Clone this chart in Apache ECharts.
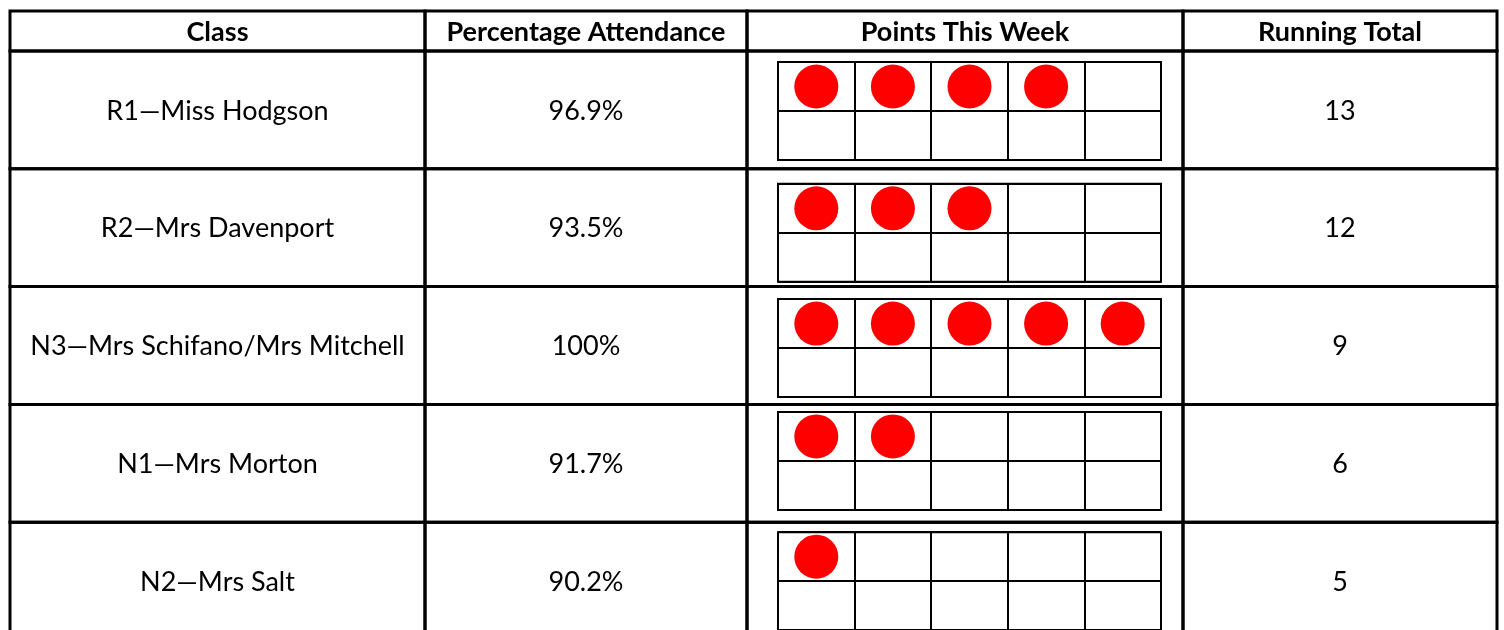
<!DOCTYPE html>
<html>
<head>
<meta charset="utf-8">
<script src="https://cdn.jsdelivr.net/npm/echarts@6/dist/echarts.min.js"></script>
<style>
  html, body { margin: 0; padding: 0; background: #ffffff; }
  #chart { width: 1504px; height: 630px; }
</style>
</head>
<body>
<div id="chart"></div>
<script>
// ---- data ----
var headers = ['Class', 'Percentage Attendance', 'Points This Week', 'Running Total'];
var classes = ['R1\u2014Miss Hodgson', 'R2\u2014Mrs Davenport', 'N3\u2014Mrs Schifano/Mrs Mitchell', 'N1\u2014Mrs Morton', 'N2\u2014Mrs Salt'];
var attendance = ['96.9%', '93.5%', '100%', '91.7%', '90.2%'];
var pointsThisWeek = [4, 3, 5, 2, 1];
var runningTotal = [13, 12, 9, 6, 5];

// ---- layout (styling only) ----
var FONT = 'Lato';
var FS = 27;
var colWidths = [415, 322, 436, 314];
var headerH = 40;
var rowH = 117.8;
var tableLeft = 10, tableTop = 11;
var totalW = colWidths.reduce(function (a, b) { return a + b; }, 0);
var totalH = headerH + rowH * classes.length;
var colEdges = [0];
colWidths.forEach(function (w, i) { colEdges.push(colEdges[i] + w); });
function rowTop(r) { return r === 0 ? 0 : headerH + (r - 1) * rowH; }
function rowBottom(r) { return r === 0 ? headerH : headerH + r * rowH; }

// ten-frame layout
var frameCols = 5, frameRows = 2;
var frameLeftPad = 31, frameW = 383, frameH = 98;
var frameTopPads = [11, 15, 12.5, 7.5, 10];

var grids = [{ left: tableLeft, top: tableTop, width: totalW, height: totalH, show: false, outerBoundsMode: 'none', containLabel: false }];
var xAxes = [{ gridIndex: 0, type: 'value', min: 0, max: totalW, show: false }];
var yAxes = [{ gridIndex: 0, type: 'value', min: 0, max: totalH, inverse: true, show: false }];
var series = [];

var lineStyleFrame = { color: '#000', width: 2 };
classes.forEach(function (c, i) {
  var gi = i + 1;
  grids.push({
    left: tableLeft + colEdges[2] + frameLeftPad,
    top: tableTop + rowTop(i + 1) + frameTopPads[i],
    width: frameW,
    height: frameH,
    show: true,
    borderColor: '#000',
    borderWidth: 2,
    backgroundColor: 'transparent',
    outerBoundsMode: 'none',
    containLabel: false
  });
  xAxes.push({
    gridIndex: gi, type: 'value', min: 0, max: frameCols, interval: 1,
    axisLine: { show: false }, axisTick: { show: false }, axisLabel: { show: false },
    splitLine: { show: true, lineStyle: lineStyleFrame }
  });
  yAxes.push({
    gridIndex: gi, type: 'value', min: 0, max: frameRows, interval: 1, inverse: true,
    axisLine: { show: false }, axisTick: { show: false }, axisLabel: { show: false },
    splitLine: { show: true, lineStyle: lineStyleFrame }
  });
  var dots = [];
  for (var k = 0; k < pointsThisWeek[i]; k++) {
    var col = k % frameCols, row = Math.floor(k / frameCols);
    dots.push([col + 0.5, row + 0.5]);
  }
  series.push({
    type: 'scatter',
    xAxisIndex: gi, yAxisIndex: gi,
    data: dots,
    symbol: 'circle',
    symbolSize: 44,
    itemStyle: { color: '#ff0000', opacity: 1 },
    silent: true,
    z: 5
  });
});

// table rows: 0 = header, 1..n = classes
var tableRows = [0].concat(classes.map(function (c, i) { return i + 1; }));

series.push({
  type: 'custom',
  xAxisIndex: 0, yAxisIndex: 0,
  data: tableRows.map(function (r) { return [0, r]; }),
  clip: false,
  silent: true,
  z: 3,
  renderItem: function (params, api) {
    var r = tableRows[params.dataIndex];
    var y0 = api.coord([0, rowTop(r)])[1];
    var y1 = api.coord([0, rowBottom(r)])[1];
    var children = [];
    var texts;
    if (r === 0) {
      texts = headers;
    } else {
      texts = [classes[r - 1], attendance[r - 1], '', String(runningTotal[r - 1])];
    }
    for (var c = 0; c < colWidths.length; c++) {
      var x0 = api.coord([colEdges[c], 0])[0];
      var x1 = api.coord([colEdges[c + 1], 0])[0];
      children.push({
        type: 'rect',
        shape: { x: x0, y: y0, width: x1 - x0, height: y1 - y0 },
        style: { fill: 'none', stroke: '#000', lineWidth: 3 }
      });
      if (texts[c]) {
        children.push({
          type: 'text',
          style: {
            text: texts[c],
            x: (x0 + x1) / 2,
            y: (y0 + y1) / 2 + 1,
            align: 'center',
            verticalAlign: 'middle',
            fontFamily: FONT,
            fontSize: FS,
            fontWeight: r === 0 ? 'bold' : 'normal',
            fill: '#000'
          }
        });
      }
    }
    return { type: 'group', children: children };
  }
});

var chart = echarts.init(document.getElementById('chart'), null, { renderer: 'canvas' });
chart.setOption({
  backgroundColor: '#ffffff',
  animation: false,
  grid: grids,
  xAxis: xAxes,
  yAxis: yAxes,
  series: series
});
</script>
</body>
</html>
